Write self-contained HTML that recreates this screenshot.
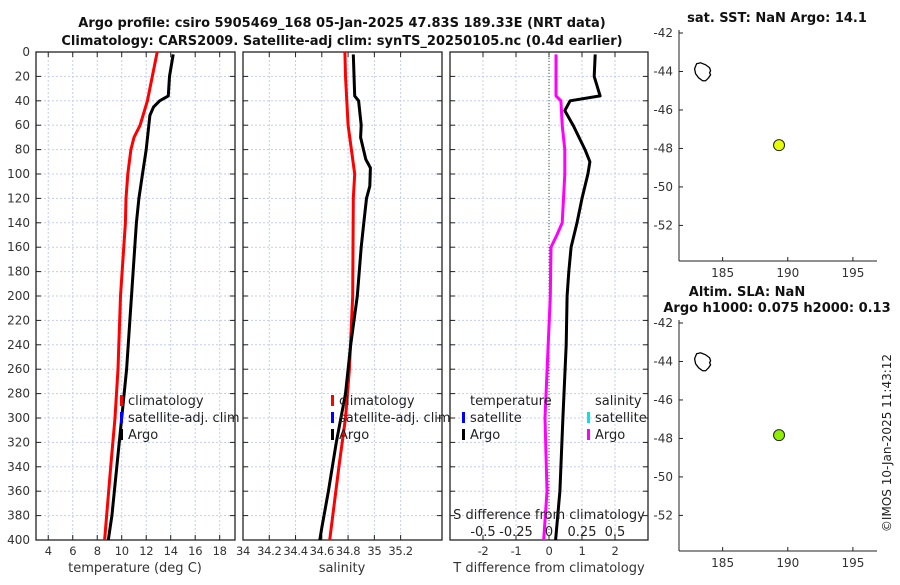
<!DOCTYPE html>
<html><head><meta charset="utf-8"><style>
body{margin:0;background:#fff;}
svg{font-family:"DejaVu Sans","Liberation Sans",sans-serif;}
</style></head><body>
<svg id="c" width="900" height="580" viewBox="0 0 900 580"></svg>
<script>
// ---- data ----
const depthTicks=[0,20,40,60,80,100,120,140,160,180,200,220,240,260,280,300,320,340,360,380,400];
const tTicks=[4,6,8,10,12,14,16,18];
const sTicks=[34,34.2,34.4,34.6,34.8,35,35.2];
const sTickLabels=["34","34.2","34.4","34.6","34.8","35","35.2"];
const dTTicks=[-2,-1,0,1,2];
const dSTicks=[-0.5,-0.25,0,0.25,0.5];
const dSTickLabels=["-0.5","-0.25","0","0.25","0.5"];
const tClimDepth=[0,20,40,60,70,80,100,120,140,200,260,300,340,400];
const tClim=[12.9,12.5,12.1,11.5,11.0,10.75,10.5,10.35,10.3,9.9,9.7,9.45,9.1,8.6];
const tArgoDepth=[2,20,36,40,45,52,80,100,120,140,200,260,300,340,380,400];
const tArgo=[14.2,13.9,13.8,13.1,12.6,12.3,12.0,11.7,11.4,11.2,10.8,10.4,10.0,9.6,9.2,8.9];
const sClimDepth=[0,20,60,100,120,200,260,300,340,400];
const sClim=[34.776,34.78,34.8,34.85,34.84,34.835,34.81,34.78,34.73,34.66];
const sArgoDepth=[2,36,40,60,70,88,95,110,120,140,160,200,240,280,320,360,390,400];
const sArgo=[34.84,34.85,34.88,34.9,34.895,34.935,34.97,34.965,34.94,34.92,34.9,34.87,34.82,34.78,34.71,34.65,34.6,34.585];
const dTDepth=[2,20,36,40,48,60,80,90,100,120,140,160,180,200,240,300,360,400];
const dT=[1.4,1.37,1.55,0.64,0.48,0.73,1.09,1.24,1.18,1.0,0.85,0.67,0.6,0.55,0.52,0.42,0.33,0.2];
const dSDepth=[2,36,40,60,80,100,140,150,160,200,300,360,400];
const dS=[0.053,0.053,0.09,0.1,0.12,0.12,0.1,0.06,0.015,0.01,-0.03,-0.015,-0.04];
const latTicks=[-42,-44,-46,-48,-50,-52];
const lonTicks=[185,190,195];
const floatLon=[189.33];
const floatLat=[-47.83];

const svg=document.getElementById('c');
const NS='http://www.w3.org/2000/svg';
function el(tag,at,txt){const e=document.createElementNS(NS,tag);for(const k in at)e.setAttribute(k,at[k]);if(txt!==undefined)e.textContent=txt;svg.appendChild(e);return e;}
const Y0=52,Y1=540;
const y=d=>Y0+(d/400)*(Y1-Y0);
function lin(d0,d1,p0,p1){return v=>p0+(v-d0)/(d1-d0)*(p1-p0);}
const panels=[{x0:36,x1:235,sx:lin(3,19.25,36,235),ticks:tTicks,labels:tTicks.map(String),name:'temperature'},
{x0:243,x1:442,sx:lin(34,35.515,243,442),ticks:sTicks,labels:sTickLabels,name:'salinity'},
{x0:450,x1:648,sx:lin(-3,3,450,648),ticks:dTTicks,labels:dTTicks.map(String),name:'difference'}];
panels.forEach((p,i)=>{
  depthTicks.forEach(d=>{const g=el('line',{x1:p.x0,x2:p.x1,y1:y(d),y2:y(d),stroke:'#c4cdf0','stroke-dasharray':'2,2','stroke-width':1});});
  p.ticks.forEach(t=>{const g=el('line',{x1:p.sx(t),x2:p.sx(t),y1:Y0,y2:Y1,stroke:'#c4cdf0','stroke-dasharray':'2,2'});
    const tl=el('text',{x:p.sx(t),y:555,'font-size':11.5,'text-anchor':'middle',fill:'#333','letter-spacing':'-0.3'},p.labels[p.ticks.indexOf(t)]);
    el('line',{x1:p.sx(t),x2:p.sx(t),y1:Y1,y2:Y1-5,stroke:'#222'});el('line',{x1:p.sx(t),x2:p.sx(t),y1:Y0,y2:Y0+5,stroke:'#222'});});
  depthTicks.forEach(d=>{el('line',{x1:p.x0,x2:p.x0+5,y1:y(d),y2:y(d),stroke:'#222'});el('line',{x1:p.x1,x2:p.x1-5,y1:y(d),y2:y(d),stroke:'#222'});});
  const b=el('rect',{x:p.x0,y:Y0,width:p.x1-p.x0,height:Y1-Y0,fill:'none',stroke:'#222','stroke-width':1.3});
  
});
depthTicks.forEach(d=>{const t=el('text',{x:30,y:y(d)+4,'font-size':12,'text-anchor':'end',fill:'#333'},String(d));});
const z=el('line',{x1:panels[2].sx(0),x2:panels[2].sx(0),y1:Y0,y2:Y1,stroke:'#3a5a20','stroke-dasharray':'1,2'});
function line(xs,ds,sx,color,name){const pts=xs.map((v,i)=>sx(v).toFixed(1)+','+y(ds[i]).toFixed(1)).join(' ');const l=el('polyline',{points:pts,fill:'none',stroke:color,'stroke-width':3,'stroke-linejoin':'round'});}
line(tClim,tClimDepth,panels[0].sx,'#ff0000','temperature-climatology-line');
line(tArgo,tArgoDepth,panels[0].sx,'#000','temperature-argo-line');
line(sClim,sClimDepth,panels[1].sx,'#ff0000','salinity-climatology-line');
line(sArgo,sArgoDepth,panels[1].sx,'#000','salinity-argo-line');
const sdx=lin(-0.75,0.75,450,648);
line(dS,dSDepth,sdx,'#ff00ff','salinity-difference-line');
line(dT,dTDepth,panels[2].sx,'#000','temperature-difference-line');
function leg(x,yy,color,txt,name){const m=el('rect',{x:x,y:yy-10,width:3,height:11,fill:color});const t=el('text',{x:x+8,y:yy,'font-size':13,fill:'#222'},txt);}
[[120,0],[331,1]].forEach(([lx,k])=>{leg(lx,405,'#ff0000','climatology','legend-climatology');leg(lx,422,'#0000ff','satellite-adj. clim','legend-satellite-adj');leg(lx,439,'#000','Argo','legend-argo');});
let t=el('text',{x:470,y:405,'font-size':13,fill:'#222'},'temperature');
leg(462,422,'#0000ff','satellite','legend-t-satellite');leg(462,439,'#000','Argo','legend-t-argo');
t=el('text',{x:595,y:405,'font-size':13,fill:'#222'},'salinity');
leg(587,422,'#00e5e5','satellite','legend-s-satellite');leg(587,439,'#ff00ff','Argo','legend-s-argo');
t=el('text',{x:549,y:519,'font-size':13,'text-anchor':'middle',fill:'#222'},'S difference from climatology');
dSTicks.forEach((v,i)=>{const q=el('text',{x:sdx(v),y:536,'font-size':13,'text-anchor':'middle',fill:'#222'},dSTickLabels[i]);});
[['temperature (deg C)',135,'temperature-axis-title'],['salinity',342,'salinity-axis-title'],['T difference from climatology',549,'t-difference-axis-title']].forEach(a=>{const q=el('text',{x:a[1],y:572,'font-size':13,'text-anchor':'middle',fill:'#333'},a[0]);});
t=el('text',{x:342,y:27,'font-size':13,'font-weight':'bold','text-anchor':'middle',fill:'#111'},'Argo profile: csiro 5905469_168 05-Jan-2025 47.83S 189.33E (NRT data)');
t=el('text',{x:342,y:45,'font-size':13,'font-weight':'bold','text-anchor':'middle',fill:'#111'},'Climatology: CARS2009. Satellite-adj clim: synTS_20250105.nc (0.4d earlier)');
function map(top,bottom,latTop,color,name){
  const mx=lin(181.65,196.85,679,877), my=lin(latTop,-53.85,top,bottom);
  el('line',{x1:679,x2:679,y1:top-3,y2:bottom,stroke:'#222'});el('line',{x1:679,x2:877,y1:bottom,y2:bottom,stroke:'#222'});
  latTicks.forEach(v=>{el('line',{x1:679,x2:683,y1:my(v),y2:my(v),stroke:'#222'});const q=el('text',{x:673,y:my(v)+4,'font-size':12,'text-anchor':'end',fill:'#333'},String(v));});
  lonTicks.forEach(v=>{el('line',{x1:mx(v),x2:mx(v),y1:bottom,y2:bottom-4,stroke:'#222'});const q=el('text',{x:mx(v),y:bottom+16,'font-size':12,'text-anchor':'middle',fill:'#333'},String(v));});
  const ox=mx(183),oy=my(-43.6);
  const isl=el('path',{d:`M${ox},${oy} l4,-1 l5,2 l4,3 l1,3 l-1,2 l1,2 l-2,3 l-3,3 l-3,0 l-4,-3 l-3,-4 l-1,-5 z`,fill:'none',stroke:'#000','stroke-width':1.3});
  
  const c=el('circle',{cx:mx(floatLon[0]),cy:my(floatLat[0]),r:5.5,fill:color,stroke:'#222','stroke-width':1});
  
}
map(33,261,-42,'#e6ff00','sst-map');
map(323,551,-42,'#8ef000','sla-map');
t=el('text',{x:777,y:22,'font-size':13,'font-weight':'bold','text-anchor':'middle',fill:'#111'},'sat. SST: NaN Argo: 14.1');
t=el('text',{x:747,y:296,'font-size':13,'font-weight':'bold','text-anchor':'middle',fill:'#111'},'Altim. SLA: NaN');
t=el('text',{x:777,y:312,'font-size':13,'font-weight':'bold','text-anchor':'middle',fill:'#111'},'Argo h1000: 0.075 h2000: 0.13');
t=el('text',{x:0,y:0,'font-size':12,'text-anchor':'middle',fill:'#222',transform:'translate(891,443) rotate(-90)'},'©IMOS 10-Jan-2025 11:43:12');
</script>
</body></html>
